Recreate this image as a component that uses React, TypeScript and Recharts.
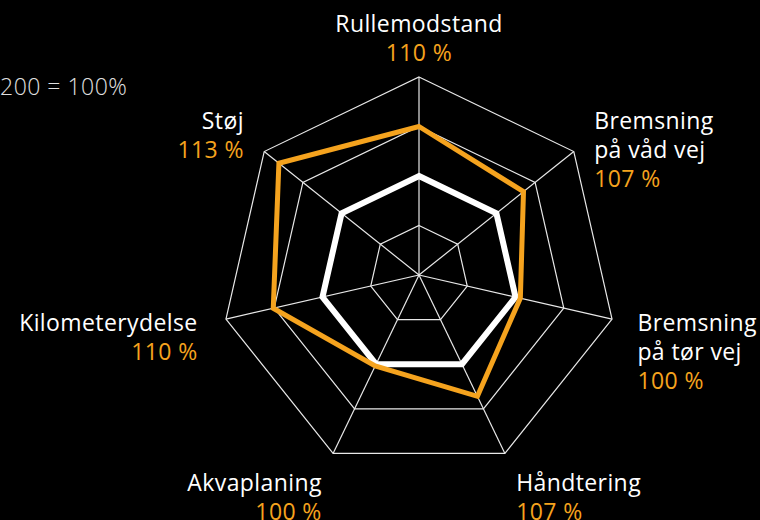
import { RadarChart, Radar, PolarGrid, PolarAngleAxis, PolarRadiusAxis } from 'recharts';

const categories = [
  'Rullemodstand',
  'Bremsning\npå våd vej',
  'Bremsning\npå tør vej',
  'Håndtering',
  'Akvaplaning',
  'Kilometerydelse',
  'Støj',
];
const scoreLabels = ['110 %', '107 %', '100 %', '107 %', '100 %', '110 %', '113 %'];
const referenceValues = [100, 100, 100, 100, 100, 100, 100];
const tyreValues = [150, 135, 105, 136, 102, 151, 181];
const scaleNote = '200 = 100%';

const data = categories.map((name, i) => ({
  name,
  reference: referenceValues[i],
  tyre: tyreValues[i],
}));

const ORANGE = '#F5A31E';
const FONT = '"Open Sans", "Noto Sans", sans-serif';
const LINE_H = 29;

// multi-line label: category name in white, score in orange
const AngleTick = (props: any) => {
  const { x, y, payload } = props;
  const idx = categories.indexOf(payload.value);
  const rad = (payload.coordinate * Math.PI) / 180;
  const cos = Math.cos(rad);
  const sin = Math.sin(rad);
  const lines = payload.value.split('\n');
  const n = lines.length + 1;

  let anchor: 'start' | 'middle' | 'end' = 'middle';
  if (cos > 0.01) anchor = 'start';
  else if (cos < -0.01) anchor = 'end';

  let firstY: number;
  if (sin > 0.9) firstY = y - 8 - (n - 1) * LINE_H;
  else if (sin > 0.3) firstY = y - 18;
  else if (sin > -0.5) firstY = y + 10;
  else firstY = y + 30;
  const tx = x + cos * 18 + (cos < -0.9 ? -3 : 0);

  return (
    <text x={tx} y={firstY} textAnchor={anchor} fontFamily={FONT} fontSize={23} letterSpacing={0.4}>
      {lines.map((l: string, i: number) => (
        <tspan key={i} x={tx} y={firstY + i * LINE_H} fill="#fff">
          {l}
        </tspan>
      ))}
      <tspan x={tx} y={firstY + lines.length * LINE_H} fill={ORANGE}>
        {scoreLabels[idx]}
      </tspan>
    </text>
  );
};

export default function App() {
  return (
    <div style={{ position: 'relative', width: 760, height: 520, background: '#000', overflow: 'hidden' }}>
      <style>{'body{margin:0;background:#000}'}</style>
      <div
        style={{
          position: 'absolute',
          left: 0,
          top: 70,
          color: '#e0e0e0',
          fontFamily: FONT,
          fontWeight: 300,
          fontSize: 23,
          letterSpacing: 0.5,
          whiteSpace: 'nowrap',
        }}
      >
        {scaleNote}
      </div>
      <RadarChart
        width={760}
        height={520}
        data={data}
        cx={419}
        cy={275}
        outerRadius={198}
        margin={{ top: 0, right: 0, bottom: 0, left: 0 }}
      >
        <PolarGrid gridType="polygon" stroke="#e8e8e8" strokeWidth={1.2} />
        <PolarRadiusAxis domain={[0, 200]} tickCount={5} tick={false} axisLine={false} />
        <PolarAngleAxis dataKey="name" tick={<AngleTick />} tickLine={false} axisLine={false} />
        <Radar
          dataKey="reference"
          stroke="#fff"
          strokeWidth={6}
          fill="none"
          fillOpacity={0}
          dot={false}
          isAnimationActive={false}
        />
        <Radar
          dataKey="tyre"
          stroke={ORANGE}
          strokeWidth={5}
          fill="none"
          fillOpacity={0}
          dot={false}
          isAnimationActive={false}
        />
      </RadarChart>
    </div>
  );
}
